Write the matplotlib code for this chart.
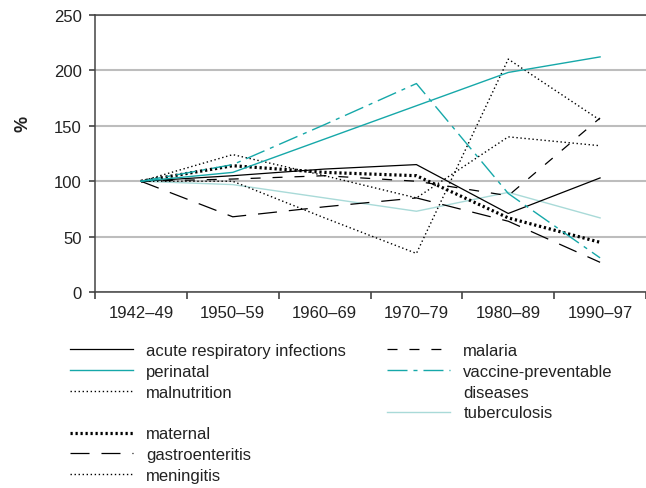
import matplotlib
matplotlib.use("Agg")
import matplotlib.pyplot as plt
from matplotlib.lines import Line2D

plt.rcParams['font.family'] = ['Liberation Sans', 'DejaVu Sans']
plt.rcParams['lines.scale_dashes'] = False

periods = ["1942–49", "1950–59", "1960–69", "1970–79", "1980–89", "1990–97"]
ari = [100, 105, 111, 115, 71, 103]
perinatal = [100, 108, 138, 168, 198, 212]
malnutrition = [100, 124, 105, 85, 140, 132]
maternal = [100, 114, 108, 105, 67, 45]
gastroenteritis = [100, 68, 77, 85, 64, 27]
meningitis = [100, 100, 67, 35, 210, 155]
malaria = [100, 102, 105, 100, 87, 157]
vaccine = [100, 115, 151, 188, 89, 31]
tuberculosis = [100, 97, 85, 73, 90, 67]
yticks = [0, 50, 100, 150, 200, 250]

TEAL = '#16a8a9'
LTEAL = '#a9dad8'
FS = 12

fig = plt.figure(figsize=(6.46, 4.89), dpi=100)
ax = fig.add_axes([95/646, 1-293.3/489, (646-95)/646, (293.3-15.7)/489])
x = list(range(len(periods)))

styles = {
    'ari': dict(color='black', lw=0.9, ls='-'),
    'perinatal': dict(color=TEAL, lw=1.0, ls='-'),
    'malnutrition': dict(color='black', lw=1.0, ls=(0, (1.0, 1.9))),
    'maternal': dict(color='black', lw=2.3, ls=(0, (1.6, 2.0))),
    'gastro': dict(color='black', lw=0.9, ls=(0, (13.7, 8.6))),
    'meningitis': dict(color='black', lw=1.0, ls=(0, (1.0, 1.9))),
    'malaria': dict(color='black', lw=0.9, ls=(0, (7.2, 8.6))),
    'vaccine': dict(color=TEAL, lw=1.0, ls=(0, (14.4, 4.3, 2.9, 4.3))),
    'tb': dict(color=LTEAL, lw=1.0, ls='-'),
}

ax.plot(x, tuberculosis, **styles['tb'])
ax.plot(x, malaria, **styles['malaria'])
ax.plot(x, gastroenteritis, **styles['gastro'])
ax.plot(x, malnutrition, **styles['malnutrition'])
ax.plot(x, meningitis, **styles['meningitis'])
ax.plot(x, ari, **styles['ari'])
ax.plot(x, maternal, **styles['maternal'])
ax.plot(x, perinatal, **styles['perinatal'])
ax.plot(x, vaccine, **styles['vaccine'])

ax.set_xlim(-0.5, len(periods) - 0.5)
ax.set_ylim(0, 250)
ax.set_yticks(yticks)
ax.set_yticklabels([str(v) for v in yticks], fontsize=FS, color='#222222')
ax.yaxis.grid(True, color='#bdbdbd', lw=1.5)
ax.set_axisbelow(True)

bounds = [i - 0.5 for i in range(len(periods) + 1)]
ax.set_xticks(bounds)
ax.set_xticklabels([''] * len(bounds))
ax.set_xticks(x, minor=True)
ax.set_xticklabels(periods, minor=True, fontsize=FS, color='#222222')
ax.tick_params(axis='x', which='major', direction='out', length=5, width=1.1, color='#333333')
ax.tick_params(axis='x', which='minor', length=0, pad=9)
ax.tick_params(axis='y', direction='out', length=4.5, width=1.1, color='#333333', pad=5)

for s in ['left', 'bottom', 'top']:
    ax.spines[s].set_color('#444444')
    ax.spines[s].set_linewidth(1.1)
ax.spines['right'].set_visible(False)

ax.set_ylabel('%', fontsize=FS + 1, fontweight='bold', color='#222222')
ax.yaxis.set_label_coords(-0.115, 0.61)

def h(key):
    return Line2D([], [], **styles[key])

blank = Line2D([], [], color='none')

left_handles = [h('ari'), h('perinatal'), h('malnutrition'), blank,
                h('maternal'), h('gastro'), h('meningitis')]
left_labels = ['acute respiratory infections', 'perinatal', 'malnutrition', '',
               'maternal', 'gastroenteritis', 'meningitis']
right_handles = [h('malaria'), h('vaccine'), blank, h('tb')]
right_labels = ['malaria', 'vaccine-preventable', 'diseases', 'tuberculosis']

common = dict(frameon=False, fontsize=FS, handlelength=3.8, handletextpad=0.78,
              labelspacing=0.35, borderpad=0, borderaxespad=0, loc='upper left')
leg1 = fig.legend(left_handles, left_labels, bbox_to_anchor=(70/646, 1-344/489), **common)
leg2 = fig.legend(right_handles, right_labels, bbox_to_anchor=(387/646, 1-344/489), **common)
for leg in (leg1, leg2):
    for t in leg.get_texts():
        t.set_color('#222222')

fig.savefig('out.png', dpi=100)
